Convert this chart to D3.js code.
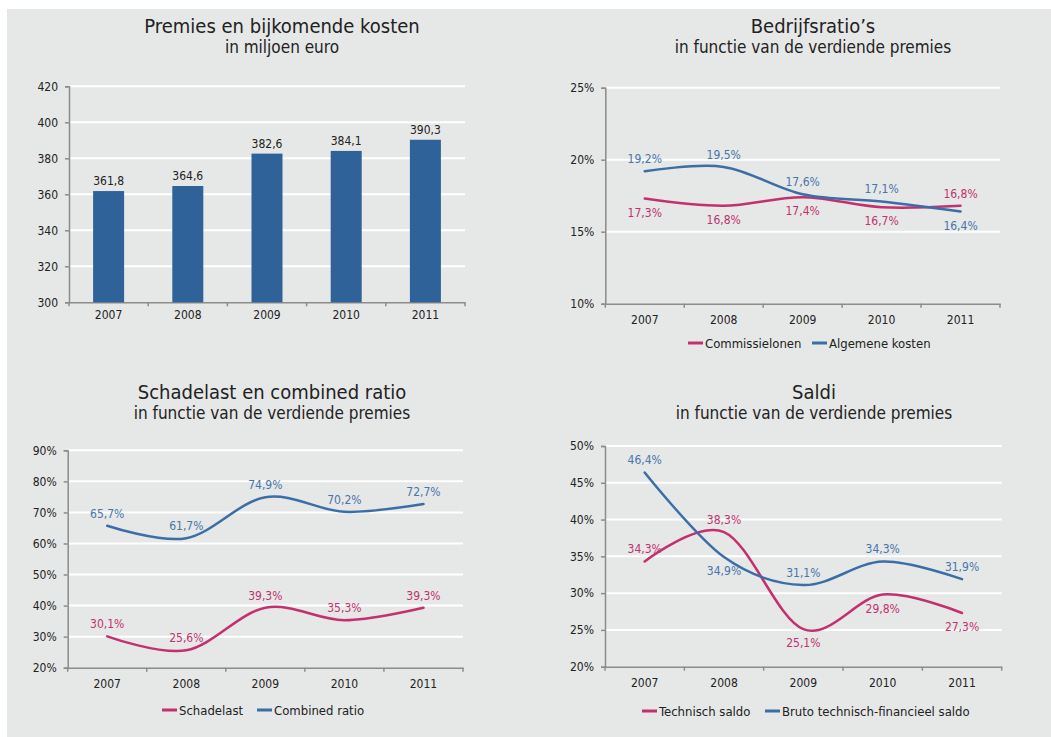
<!DOCTYPE html>
<html>
<head>
<meta charset="utf-8">
<script src="https://cdn.jsdelivr.net/npm/d3@7"></script>
<style>
  html, body { margin: 0; padding: 0; background: #ffffff; }
  svg { display: block; }
  text { font-family: "DejaVu Sans Condensed", "DejaVu Sans", sans-serif; }
</style>
</head>
<body>
<svg id="chart" width="1051" height="737"></svg>
<script>
// ---- data ----
const years = ["2007", "2008", "2009", "2010", "2011"];

const premies = [361.8, 364.6, 382.6, 384.1, 390.3];
const premiesTicks = [300, 320, 340, 360, 380, 400, 420];

const commissielonen = [17.3, 16.8, 17.4, 16.7, 16.8];
const algemeneKosten = [19.2, 19.5, 17.6, 17.1, 16.4];
const ratioTicks = [10, 15, 20, 25];

const schadelast = [30.1, 25.6, 39.3, 35.3, 39.3];
const combinedRatio = [65.7, 61.7, 74.9, 70.2, 72.7];
const schadeTicks = [20, 30, 40, 50, 60, 70, 80, 90];

const technischSaldo = [34.3, 38.3, 25.1, 29.8, 27.3];
const brutoSaldo = [46.4, 34.9, 31.1, 34.3, 31.9];
const saldiTicks = [20, 25, 30, 35, 40, 45, 50];

// label placement per point: "a" above, "b" below
const commPos = ["b", "b", "b", "b", "a"];
const algPos = ["a", "a", "a", "a", "b"];
const schadePos = ["a", "a", "a", "a", "a"];
const combPos = ["a", "a", "a", "a", "a"];
const techPos = ["a", "a", "b", "b", "b"];
const brutoPos = ["a", "b", "a", "a", "a"];

// ---- style ----
const BG = "#e6e7e7";
const BAR = "#2f6299";
const BLUE = "#3b6ea6";
const BLUE_TXT = "#4676aa";
const MAGENTA = "#c4306f";
const MAGENTA_TXT = "#c0336f";
const AXIS = "#8c8c8c";
const TXT = "#222222";
const FONT = "'DejaVu Sans Condensed', 'DejaVu Sans', sans-serif";

const nl = d3.formatLocale({ decimal: ",", thousands: ".", grouping: [3], currency: ["€", ""] });
const f1 = nl.format(".1f");
const pct = v => f1(v) + "%";

const svg = d3.select("#chart");
svg.append("rect").attr("x", 7).attr("y", 9).attr("width", 1044).attr("height", 728).attr("fill", BG);

function titles(cx, y1, y2, t1, t2) {
  svg.append("text").attr("x", cx).attr("y", y1).attr("text-anchor", "middle")
    .attr("font-size", 20).attr("fill", TXT).text(t1);
  svg.append("text").attr("x", cx).attr("y", y2).attr("text-anchor", "middle")
    .attr("font-size", 17).attr("fill", TXT).text(t2);
}

// frame: grid, axes, tick labels; returns scales
function frame(box, domain, ticks, tickFmt, xPad) {
  const g = svg.append("g");
  const x = d3.scaleBand().domain(years).range([box.left, box.right]);
  const y = d3.scaleLinear().domain(domain).range([box.bottom, box.top]);

  // white gridlines
  g.selectAll("line.grid").data(ticks.filter(t => t !== domain[0])).join("line")
    .attr("x1", box.left).attr("x2", box.right)
    .attr("y1", d => y(d)).attr("y2", d => y(d))
    .attr("stroke", "#ffffff").attr("stroke-width", 2);

  // y axis
  const ya = d3.axisLeft(y).tickValues(ticks).tickFormat(tickFmt).tickSize(4).tickPadding(7);
  const yg = g.append("g").attr("transform", `translate(${box.left},0)`).call(ya);
  yg.select(".domain").attr("stroke", AXIS).attr("stroke-width", 1.5);
  yg.selectAll(".tick line").attr("stroke", AXIS).attr("stroke-width", 1.5);
  yg.selectAll(".tick text").attr("font-size", 12).attr("fill", TXT).attr("font-family", FONT);

  // x axis with ticks between categories
  const xa = d3.axisBottom(x).tickSize(0).tickPadding(xPad);
  const xg = g.append("g").attr("transform", `translate(0,${box.bottom})`).call(xa);
  xg.select(".domain").attr("stroke", AXIS).attr("stroke-width", 1.5);
  xg.selectAll(".tick text").attr("font-size", 12).attr("fill", TXT).attr("font-family", FONT);
  const bounds = years.map(d => x(d)).concat([box.right]);
  g.selectAll("line.xt").data(bounds).join("line")
    .attr("x1", d => d).attr("x2", d => d)
    .attr("y1", box.bottom).attr("y2", box.bottom + 4)
    .attr("stroke", AXIS).attr("stroke-width", 1.5);
  return { x, y };
}

function series(sc, values, color, txtColor, pos) {
  const line = d3.line()
    .x((d, i) => sc.x(years[i]) + sc.x.bandwidth() / 2)
    .y(d => sc.y(d))
    .curve(d3.curveCardinal.tension(0));
  svg.append("path").datum(values).attr("d", line)
    .attr("fill", "none").attr("stroke", color).attr("stroke-width", 2.5)
    .attr("stroke-linecap", "round");
  svg.append("g").selectAll("text").data(values).join("text")
    .attr("x", (d, i) => sc.x(years[i]) + sc.x.bandwidth() / 2)
    .attr("y", (d, i) => sc.y(d) + (pos[i] === "a" ? -8 : 18))
    .attr("text-anchor", "middle").attr("font-size", 12).attr("fill", txtColor)
    .text(d => pct(d));
}

function legend(items, y) {
  items.forEach(it => {
    svg.append("line").attr("x1", it.x).attr("x2", it.x + 15).attr("y1", y).attr("y2", y)
      .attr("stroke", it.color).attr("stroke-width", 3);
    svg.append("text").attr("x", it.x + 17).attr("y", y + 4.5)
      .attr("font-size", 13).attr("fill", TXT).text(it.label);
  });
}

// ---- chart 1: premies ----
titles(282, 33, 53, "Premies en bijkomende kosten", "in miljoen euro");
const s1 = frame({ left: 69, right: 465, top: 86.3, bottom: 302.3 }, [300, 420], premiesTicks, d => d, 8);
{
  const bw = 31;
  const cx = d => s1.x(d) + s1.x.bandwidth() / 2;
  svg.append("g").selectAll("rect").data(premies).join("rect")
    .attr("x", (d, i) => cx(years[i]) - bw / 2).attr("width", bw)
    .attr("y", d => s1.y(d)).attr("height", d => s1.y(300) - s1.y(d))
    .attr("fill", BAR);
  svg.append("g").selectAll("text").data(premies).join("text")
    .attr("x", (d, i) => cx(years[i])).attr("y", d => s1.y(d) - 6)
    .attr("text-anchor", "middle").attr("font-size", 12).attr("fill", TXT)
    .text(d => f1(d));
}

// ---- chart 2: bedrijfsratio's ----
titles(813, 33, 53, "Bedrijfsratio\u2019s", "in functie van de verdiende premies");
const s2 = frame({ left: 605.3, right: 1000, top: 87.7, bottom: 303.7 }, [10, 25], ratioTicks, d => d + "%", 12);
series(s2, commissielonen, MAGENTA, MAGENTA_TXT, commPos);
series(s2, algemeneKosten, BLUE, BLUE_TXT, algPos);
legend([
  { x: 688, color: MAGENTA, label: "Commissielonen" },
  { x: 812, color: BLUE, label: "Algemene kosten" }
], 343);

// ---- chart 3: schadelast en combined ratio ----
titles(272, 399, 419, "Schadelast en combined ratio", "in functie van de verdiende premies");
const s3 = frame({ left: 67.7, right: 463, top: 450.3, bottom: 667.7 }, [20, 90], schadeTicks, d => d + "%", 12);
series(s3, schadelast, MAGENTA, MAGENTA_TXT, schadePos);
series(s3, combinedRatio, BLUE, BLUE_TXT, combPos);
legend([
  { x: 162, color: MAGENTA, label: "Schadelast" },
  { x: 257, color: BLUE, label: "Combined ratio" }
], 710);

// ---- chart 4: saldi ----
titles(814, 399, 419, "Saldi", "in functie van de verdiende premies");
const s4 = frame({ left: 605, right: 1001.7, top: 446, bottom: 666.7 }, [20, 50], saldiTicks, d => d + "%", 12);
series(s4, technischSaldo, MAGENTA, MAGENTA_TXT, techPos);
series(s4, brutoSaldo, BLUE, BLUE_TXT, brutoPos);
legend([
  { x: 642, color: MAGENTA, label: "Technisch saldo" },
  { x: 765, color: BLUE, label: "Bruto technisch-financieel saldo" }
], 711);
</script>
</body>
</html>
